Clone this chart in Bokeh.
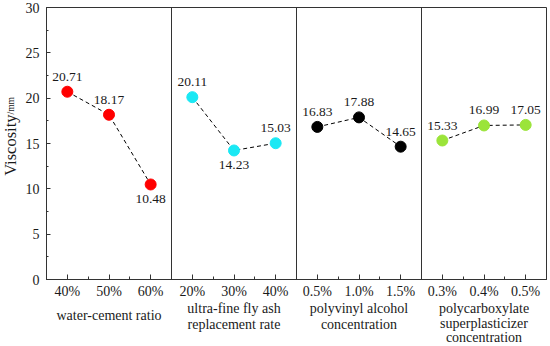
import math
from bokeh.plotting import figure
from bokeh.models import ColumnDataSource, FixedTicker, Span, Range1d
from bokeh.layouts import row, column
from bokeh.core.properties import value
from bokeh.embed import file_html
from bokeh.resources import INLINE

# ---------------- data ----------------
group_lines = [["water-cement ratio"],
               ["ultra-fine fly ash", "replacement rate"],
               ["polyvinyl alcohol", "concentration"],
               ["polycarboxylate", "superplasticizer", "concentration"]]
levels = [["40%", "50%", "60%"],
          ["20%", "30%", "40%"],
          ["0.5%", "1.0%", "1.5%"],
          ["0.3%", "0.4%", "0.5%"]]
viscosity = [[20.71, 18.17, 10.48],
             [20.11, 14.23, 15.03],
             [16.83, 17.88, 14.65],
             [15.33, 16.99, 17.05]]
y_ticks = [0, 5, 10, 15, 20, 25, 30]
y_title = "Viscosity"
y_unit = "/mm"

# ---------------- style ----------------
colors = ["#FF0000", "#1AE8F4", "#000000", "#9BE43A"]
label_side = [["above", "above", "below"],
              ["above", "below", "above"],
              ["above", "above", "above"],
              ["above", "above", "above"]]
FONT = "Liberation Serif"
AX = "#333333"
TXT = "#1a1a1a"

LEFT_W = 22
MAIN_W, MAIN_H = 528, 301
STRIP_H = 45
BL, BR, BT, BB = 23, 4, 7, 22

n_groups = len(levels)
n_per = len(levels[0])
n_total = n_groups * n_per
ymax = 30

xr = Range1d(0, n_total)

p = figure(width=MAIN_W, height=MAIN_H, x_range=xr, y_range=(0, ymax),
           output_backend="svg", toolbar_location=None,
           min_border_left=BL, min_border_right=BR,
           min_border_top=BT, min_border_bottom=BB)
p.xgrid.visible = False
p.ygrid.visible = False
p.outline_line_color = AX
p.outline_line_width = 1

# x axis
major_x = [i + 0.5 for i in range(n_total)]
minor_x = list(range(n_total + 1))
p.xaxis.ticker = FixedTicker(ticks=major_x, minor_ticks=minor_x)
overrides = {}
k = 0
for g in range(n_groups):
    for lab in levels[g]:
        overrides[major_x[k]] = lab
        k += 1
p.xaxis.major_label_overrides = overrides
p.xaxis.major_tick_in = 5
p.xaxis.major_tick_out = 0
p.xaxis.minor_tick_in = 3
p.xaxis.minor_tick_out = 0
p.xaxis.major_label_standoff = 4
p.xaxis.major_label_text_font = FONT
p.xaxis.major_label_text_font_size = "14px"
p.xaxis.major_label_text_color = TXT
p.xaxis.axis_line_color = AX
p.xaxis.major_tick_line_color = AX
p.xaxis.minor_tick_line_color = AX

# y axis
p.yaxis.ticker = FixedTicker(ticks=y_ticks, minor_ticks=[v / 2 for v in range(0, 61, 5)])
p.yaxis.major_tick_in = 4
p.yaxis.major_tick_out = 0
p.yaxis.minor_tick_in = 2
p.yaxis.minor_tick_out = 0
p.yaxis.major_label_standoff = 7
p.yaxis.major_label_text_font = FONT
p.yaxis.major_label_text_font_size = "14px"
p.yaxis.major_label_text_color = TXT
p.yaxis.axis_line_color = AX
p.yaxis.major_tick_line_color = AX
p.yaxis.minor_tick_line_color = AX

# group dividers
for g in range(1, n_groups):
    p.add_layout(Span(location=g * n_per, dimension="height",
                      line_color=AX, line_width=1))

# series
for g in range(n_groups):
    xs = [g * n_per + i + 0.5 for i in range(n_per)]
    ys = viscosity[g]
    p.line(xs, ys, line_color="black", line_width=1, line_dash="4 3")
    p.scatter(xs, ys, size=11, fill_color=colors[g], line_color=colors[g])
    src = ColumnDataSource(dict(
        x=xs, y=ys, t=["%.2f" % v for v in ys],
        yo=[-15 if s == "above" else 15 for s in label_side[g]]))
    p.text("x", "y", text="t", source=src, y_offset="yo",
           text_align="center", text_baseline="middle",
           text_font=value(FONT), text_font_size="13.5px", text_color=TXT)

# ---------------- bottom strip with group titles ----------------
s = figure(width=MAIN_W, height=STRIP_H, x_range=xr, y_range=Range1d(STRIP_H, 0),
           output_backend="svg", toolbar_location=None,
           x_axis_type=None, y_axis_type=None,
           min_border_left=BL, min_border_right=BR, min_border_top=0, min_border_bottom=0)
s.xgrid.visible = False
s.ygrid.visible = False
s.outline_line_color = None
tx, ty, tt = [], [], []
for g, lines in enumerate(group_lines):
    n = len(lines)
    if n == 1:
        pos = [14]
    elif n == 2:
        pos = [7, 22.5]
    else:
        pos = [7, 21.5, 36]
    for j, txt in enumerate(lines):
        tx.append(g * n_per + n_per / 2)
        ty.append(pos[j])
        tt.append(txt)
s.text(tx, ty, text=tt, text_align="center", text_baseline="middle",
       text_font=value(FONT), text_font_size="14px", text_color=TXT)

# ---------------- left strip with y-axis title ----------------
l = figure(width=LEFT_W, height=MAIN_H, x_range=(0, LEFT_W), y_range=Range1d(MAIN_H, 0),
           output_backend="svg", toolbar_location=None,
           x_axis_type=None, y_axis_type=None,
           min_border_left=0, min_border_right=0, min_border_top=0, min_border_bottom=0)
l.xgrid.visible = False
l.ygrid.visible = False
l.outline_line_color = None
l.text([10], [114], text=[y_title], angle=math.pi / 2,
       text_align="right", text_baseline="middle",
       text_font=value(FONT), text_font_size="16.5px", text_color=TXT)
l.text([10.5], [114], text=[y_unit], angle=math.pi / 2,
       text_align="left", text_baseline="middle",
       text_font=value(FONT), text_font_size="9.5px", text_color=TXT)

layout = row(l, column(p, s))
open("out.html", "w").write(file_html(layout, INLINE))
